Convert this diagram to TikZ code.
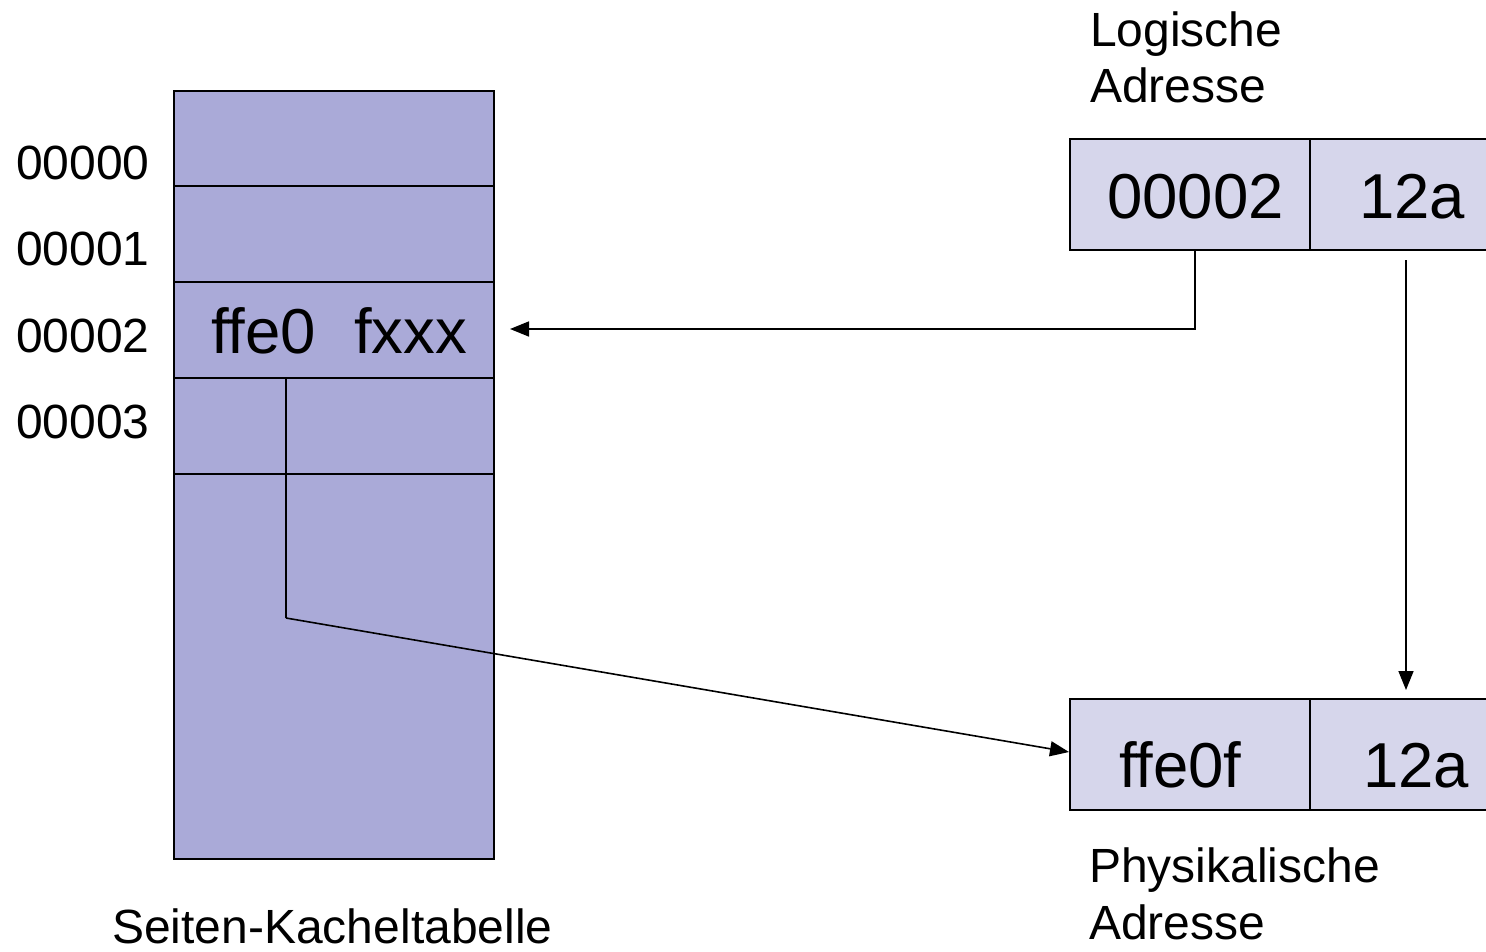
\documentclass[tikz,border=0pt]{standalone}
\usepackage{fontspec}
\setmainfont[Ligatures=NoCommon]{Liberation Sans}
\usetikzlibrary{arrows.meta}
\definecolor{tabfill}{RGB}{170,170,216}
\definecolor{adrfill}{RGB}{214,214,235}
\begin{document}
\begin{tikzpicture}[x=1pt,y=-1pt,
  lw/.style={line width=1.6pt},
  arr/.style={lw,-{Triangle[length=19pt,width=15pt]}},
  cellbox/.style={draw,lw,fill=adrfill,rectangle,inner sep=0pt,minimum height=111pt,anchor=north west},
  small/.style={font=\fontsize{48}{57}\selectfont,inner sep=0pt,anchor=base west},
  big/.style={font=\fontsize{63.5}{75}\selectfont,inner sep=0pt,anchor=base west}]
\useasboundingbox (0,0) rectangle (1486,951);
\clip (0,0) rectangle (1486,951);
% page table
\node[draw,lw,fill=tabfill,rectangle,inner sep=0pt,minimum width=320pt,minimum height=768pt,anchor=north west] (tab) at (173,90) {};
\foreach \yy in {186,282,378,474} \draw[lw] (173,\yy) -- (493,\yy);
\coordinate (vtop) at (286,378);
\coordinate (vbend) at (286,618);
% row labels
\node[small] (l0) at (16,179) {00000};
\node[small] (l1) at (16,265) {00001};
\node[small] (l2) at (16,352) {00002};
\node[small] (l3) at (16,438) {00003};
\node[big] (tx1) at (211,353) {ffe0};
\node[big] (tx2) at (354,353) {fxxx};
\node[small] (cap) at (112,943) {Seiten-Kacheltabelle};
% logical address
\node[small] (log1) at (1090,46) {Logische};
\node[small] (log2) at (1090,102) {Adresse};
\node[cellbox,minimum width=240pt] (la1) at (1069,138) {};
\node[cellbox,minimum width=200pt] (la2) at (1309,138) {};
\node[big] (la1t) at (1107,218) {00002};
\node[big] (la2t) at (1359,218) {12a};
% physical address
\node[cellbox,minimum width=240pt] (pa1) at (1069,698) {};
\node[cellbox,minimum width=200pt] (pa2) at (1309,698) {};
\node[big] (pa1t) at (1119,787) {ffe0f};
\node[big] (pa2t) at (1363,787) {12a};
\node[small] (ph1) at (1089,882) {Physikalische};
\node[small] (ph2) at (1089,939) {Adresse};
% connectors
\coordinate (a1s) at (1195,249);
\coordinate (a1t) at (510,329);
\draw[arr] (a1s) |- (a1t);
\coordinate (a2s) at (1406,260);
\coordinate (a2t) at (1406,690);
\draw[arr] (a2s) -- (a2t);
\coordinate (a3t) at (1069,752);
\draw[lw] (vtop) -- (vbend);
\draw[arr] (vbend) -- (a3t);
\end{tikzpicture}
\end{document}
